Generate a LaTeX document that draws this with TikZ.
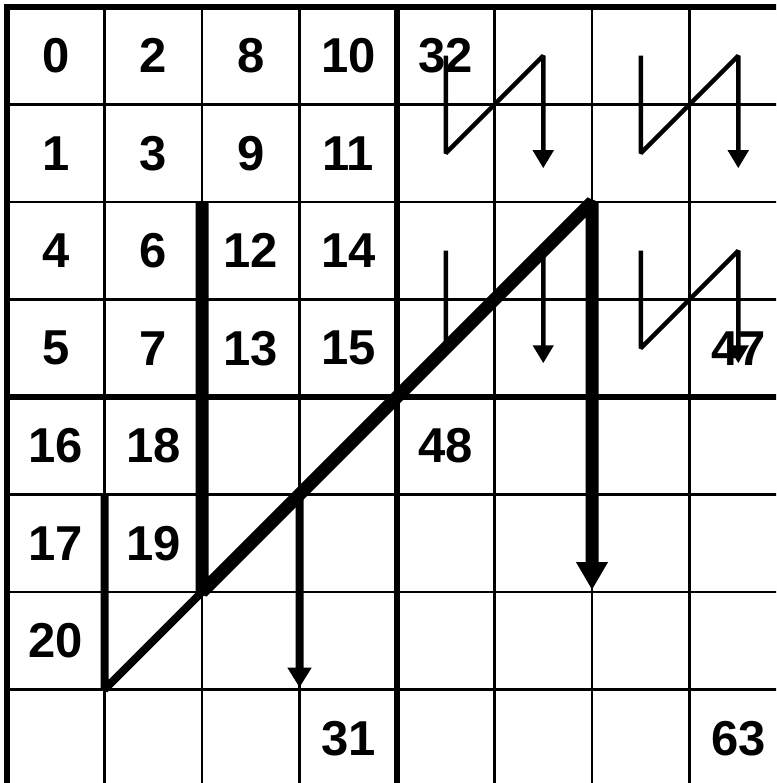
\documentclass[tikz,border=0pt]{standalone}
\usepackage{fontspec}
\setmainfont{Liberation Sans}
\usetikzlibrary{arrows.meta,calc}
\begin{document}
\begin{tikzpicture}[x=1pt,y=-1pt,
  gridthin/.style={line width=2.3pt},
  gridthick/.style={line width=5.5pt},
  num/.style={font=\fontsize{49}{49}\selectfont\bfseries, inner sep=0pt},
  zthin/.style={line width=4.5pt, line join=bevel, -{Triangle[width=20pt,length=18pt]}},
  zmed/.style={line width=8pt, line join=bevel, -{Triangle[width=23pt,length=20pt]}},
  zthick/.style={line width=13pt, line join=bevel, -{Triangle[width=30pt,length=28pt]}}]
\useasboundingbox (0,0) rectangle (776,783);
\fill[white] (0,0) rectangle (776,783);
\clip (0,0) rectangle (776,783);
% named points
\foreach \r in {0,...,8} {\foreach \c in {0,...,8} {
  \coordinate (g\r\c) at ({7+97.5*\c},{7+97.5*\r});
  \coordinate (c\r\c) at ({55.75+97.5*\c},{55.75+97.5*\r});
}}
% grid
\foreach \k in {1,2,3,5,6,7} {
  \draw[gridthin] ({7+97.5*\k},7) -- ({7+97.5*\k},800);
  \draw[gridthin] (7,{7+97.5*\k}) -- (800,{7+97.5*\k});
}
\foreach \k in {0,4} {
  \draw[gridthick] ({7+97.5*\k},4.25) -- ({7+97.5*\k},800);
  \draw[gridthick] (4.25,{7+97.5*\k}) -- (800,{7+97.5*\k});
}
% numbers
\foreach \r/\c/\t in {0/0/0,0/1/2,0/2/8,0/3/10,0/4/32,1/0/1,1/1/3,1/2/9,1/3/11,
  2/0/4,2/1/6,2/2/12,2/3/14,3/0/5,3/1/7,3/2/13,3/3/15,3/7/47,4/0/16,4/1/18,4/4/48,
  5/0/17,5/1/19,6/0/20,7/3/31,7/7/63}
  \node[num] (n\t) at (c\r\c) {\t};
% thin Z curves
\coordinate (t1) at ($(c15)+(0,15)$);
\coordinate (t2) at ($(c17)+(0,15)$);
\coordinate (t3) at ($(c35)+(0,15)$);
\coordinate (t4) at ($(c37)+(0,15)$);
\draw[zthin] (c04) -- (c14) -- (c05) -- (t1);
\draw[zthin] (c06) -- (c16) -- (c07) -- (t2);
\draw[zthin] (c24) -- (c34) -- (c25) -- (t3);
\draw[zthin] (c26) -- (c36) -- (c27) -- (t4);
% medium Z
\coordinate (t5) at ($(g73)+(0,-2)$);
\draw[zmed] (g51) -- (g71) -- (g53) -- (t5);
% thick Z
\coordinate (t6) at ($(g66)+(0,-2)$);
\draw[zthick] (g22) -- (g62) -- (g26) -- (t6);
\end{tikzpicture}
\end{document}
